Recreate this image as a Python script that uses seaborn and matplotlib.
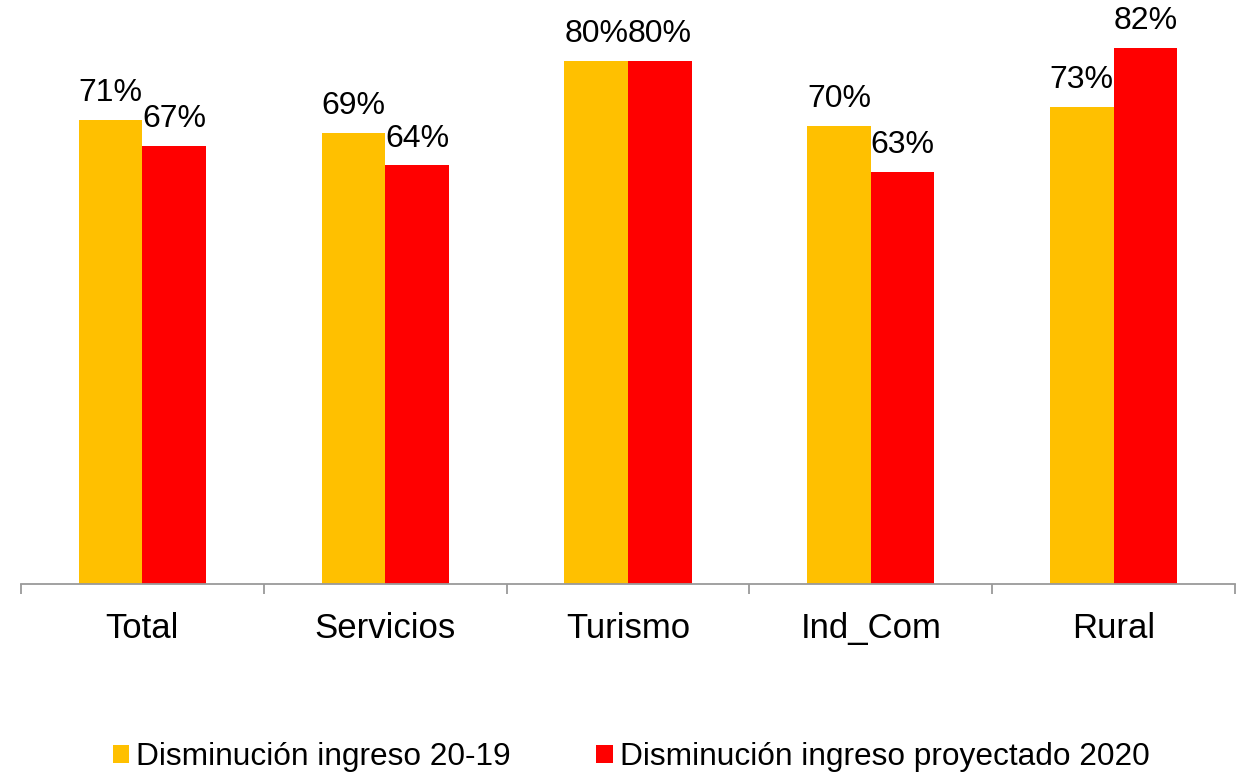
import matplotlib
matplotlib.use("Agg")
import matplotlib.pyplot as plt
from matplotlib.patches import Patch
from matplotlib.ticker import FixedLocator
import seaborn as sns
import pandas as pd

categorias = ["Total", "Servicios", "Turismo", "Ind_Com", "Rural"]
series = ["Disminución ingreso 20-19", "Disminución ingreso proyectado 2020"]
ingreso_20_19 = [0.71, 0.69, 0.80, 0.70, 0.73]
proyectado_2020 = [0.67, 0.64, 0.80, 0.63, 0.82]
colores = ["#FFC000", "#FF0000"]

df = pd.DataFrame({
    "categoria": categorias * 2,
    "serie": [series[0]] * len(categorias) + [series[1]] * len(categorias),
    "valor": ingreso_20_19 + proyectado_2020,
})

sns.set_theme(style="white")
plt.rcParams["font.family"] = ["Liberation Sans", "DejaVu Sans"]
plt.rcParams["text.color"] = "black"

fig = plt.figure(figsize=(12.4, 7.76), dpi=100)
ax = fig.add_axes([21 / 1240, 192 / 776, 1214 / 1240, 584 / 776])

sns.barplot(data=df, x="categoria", y="valor", hue="serie", hue_order=series,
            order=categorias, palette=colores, saturation=1, width=0.524,
            legend=False, ax=ax, linewidth=0)

for cont in ax.containers:
    ax.bar_label(cont, labels=[f"{b.get_height():.0%}" for b in cont],
                 padding=8.5, fontsize=23, color="black")

ax.set_ylim(0, 0.893)
ax.set_xlim(-0.5, len(categorias) - 0.5)
ax.set_xlabel("")
ax.set_ylabel("")
ax.set_yticks([])
for s in ["top", "right", "left"]:
    ax.spines[s].set_visible(False)
ax.spines["bottom"].set_color("#9A9A9A")
ax.spines["bottom"].set_linewidth(1.3)

ax.tick_params(axis="x", which="major", length=0, labelsize=25, pad=20, colors="black")
ax.xaxis.set_minor_locator(FixedLocator([i - 0.5 for i in range(len(categorias) + 1)]))
ax.tick_params(axis="x", which="minor", length=7.5, width=1.3, color="#9A9A9A",
               direction="out", bottom=True)

handles = [Patch(facecolor=c, edgecolor="none") for c in colores]
fig.legend(handles, series, loc="center", bbox_to_anchor=(0.509, 0.0245), ncol=2,
           frameon=False, fontsize=22.8, handlelength=0.52, handleheight=0.52,
           handletextpad=0.22, columnspacing=2.7, labelcolor="black")

fig.savefig("out.png", dpi=100)
